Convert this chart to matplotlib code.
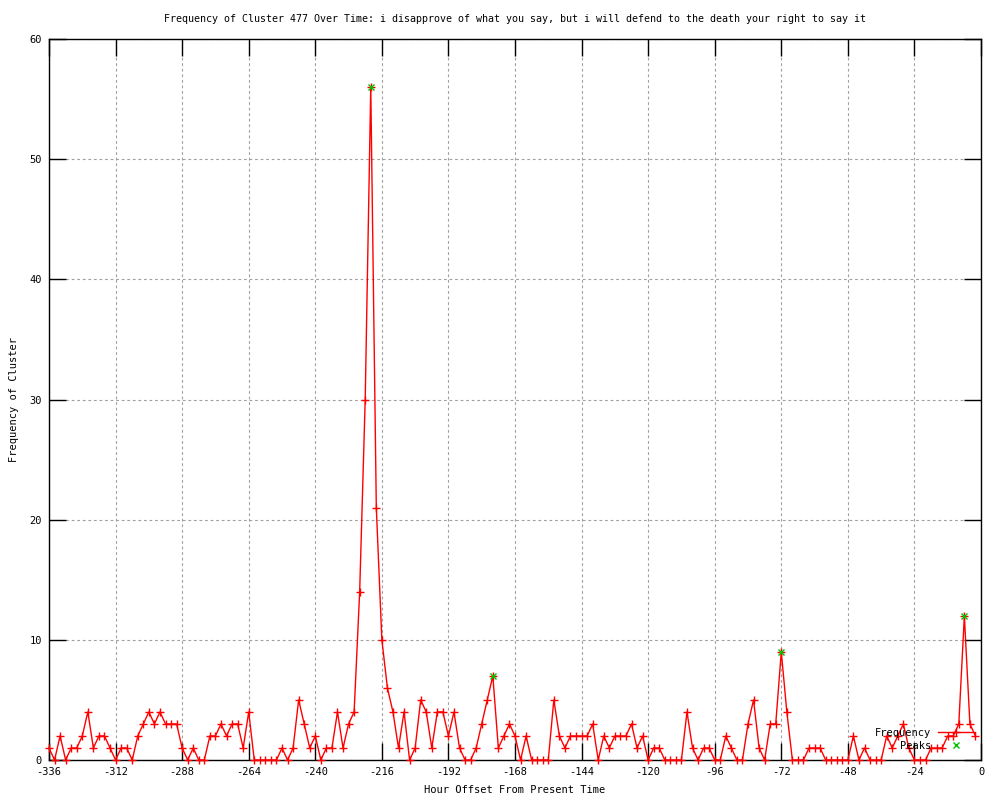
import numpy as np
import matplotlib
matplotlib.use("Agg")
import matplotlib.pyplot as plt

plt.rcParams['font.family'] = ['DejaVu Sans Mono']
plt.rcParams['font.size'] = 7.5
plt.rcParams['axes.unicode_minus'] = False

# hourly offsets, one sample every 2 hours
hours = np.arange(-336, 0, 2)
freq = [1, 0, 2, 0, 1, 1, 2, 4, 1, 2, 2, 1, 0, 1, 1, 0, 2, 3, 4, 3,
        4, 3, 3, 3, 1, 0, 1, 0, 0, 2, 2, 3, 2, 3, 3, 1, 4, 0, 0, 0,
        0, 0, 1, 0, 1, 5, 3, 1, 2, 0, 1, 1, 4, 1, 3, 4, 14, 30, 56, 21,
        10, 6, 4, 1, 4, 0, 1, 5, 4, 1, 4, 4, 2, 4, 1, 0, 0, 1, 3, 5,
        7, 1, 2, 3, 2, 0, 2, 0, 0, 0, 0, 5, 2, 1, 2, 2, 2, 2, 3, 0,
        2, 1, 2, 2, 2, 3, 1, 2, 0, 1, 1, 0, 0, 0, 0, 4, 1, 0, 1, 1,
        0, 0, 2, 1, 0, 0, 3, 5, 1, 0, 3, 3, 9, 4, 0, 0, 0, 1, 1, 1,
        0, 0, 0, 0, 0, 2, 0, 1, 0, 0, 0, 2, 1, 2, 3, 1, 0, 0, 0, 1,
        1, 1, 2, 2, 3, 12, 3, 2]

peak_hours = [-220, -176, -72, -6]
peak_counts = [56, 7, 9, 12]

xticks = list(range(-336, 1, 24))
yticks = list(range(0, 61, 10))

fig = plt.figure(figsize=(10, 8), dpi=100)
ax = fig.add_axes([0.049, 0.05, 0.932, 0.90125])

l1, = ax.plot(hours, freq, color='red', lw=1, marker='+', ms=6, mew=1,
              clip_on=False, zorder=3)
l2, = ax.plot(peak_hours, peak_counts, ls='none', marker='x', ms=5, mew=1,
              color='#00c000', clip_on=False, zorder=4)

ax.set_xlim(-336, 0)
ax.set_ylim(0, 60)
ax.set_xticks(xticks)
ax.set_yticks(yticks)
ax.tick_params(direction='in', length=12, width=1, top=True, right=True,
               labeltop=False, labelright=False, pad=5, colors='black')
ax.grid(True, color='#a0a0a0', linestyle=(0, (2.5, 2.5)), lw=0.8)
ax.set_axisbelow(True)
for s in ax.spines.values():
    s.set_linewidth(1)

ax.set_title("Frequency of Cluster 477 Over Time: i disapprove of what you say, "
             "but i will defend to the death your right to say it",
             fontsize=7.2, pad=12)
ax.set_xlabel("Hour Offset From Present Time", labelpad=6)
ax.set_ylabel("Frequency of Cluster", labelpad=7.5)

anchor_x = (975 - 49) / 932
leg1 = ax.legend([l1], ['Frequency'], loc='center right',
                 bbox_to_anchor=(anchor_x, (760 - 733) / 721),
                 frameon=False, markerfirst=False, handlelength=3.6,
                 handletextpad=0.6, borderpad=0, borderaxespad=0)
ax.add_artist(leg1)
ax.legend([l2], ['Peaks'], loc='center right',
          bbox_to_anchor=(anchor_x, (760 - 746) / 721),
          frameon=False, markerfirst=False, handlelength=3.6,
          handletextpad=0.6, borderpad=0, borderaxespad=0)

fig.savefig("out.png", dpi=100)
